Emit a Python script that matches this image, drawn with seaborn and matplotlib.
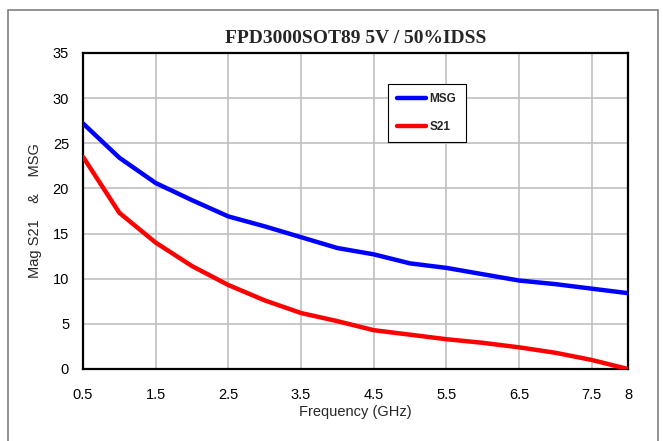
import numpy as np
import pandas as pd
import matplotlib
matplotlib.use("Agg")
import matplotlib.pyplot as plt
import seaborn as sns
from matplotlib.patches import Rectangle

freq_ghz = [0.5, 1.0, 1.5, 2.0, 2.5, 3.0, 3.5, 4.0, 4.5, 5.0, 5.5, 6.0, 6.5, 7.0, 7.5, 8.0]
msg_db = [27.2, 23.4, 20.6, 18.7, 16.9, 15.8, 14.6, 13.4, 12.7, 11.7, 11.2, 10.5, 9.8, 9.4, 8.9, 8.4]
s21_db = [23.5, 17.3, 14.0, 11.4, 9.3, 7.6, 6.2, 5.3, 4.3, 3.8, 3.3, 2.9, 2.4, 1.8, 1.0, 0.0]
series_names = ["MSG", "S21"]
series_colors = ["#0000ff", "#ff0000"]
x_ticks = [0.5, 1.5, 2.5, 3.5, 4.5, 5.5, 6.5, 7.5, 8]
x_ticklabels = ["0.5", "1.5", "2.5", "3.5", "4.5", "5.5", "6.5", "7.5", "8"]
y_ticks = [0, 5, 10, 15, 20, 25, 30, 35]

df = pd.DataFrame({
    "freq": freq_ghz * 2,
    "gain": msg_db + s21_db,
    "series": [series_names[0]] * len(freq_ghz) + [series_names[1]] * len(freq_ghz),
})

sns.set_style("white")
plt.rcParams["font.family"] = ["Liberation Sans", "DejaVu Sans"]

W, H = 663, 441
fig = plt.figure(figsize=(W / 100, H / 100), dpi=100)
ax = fig.add_axes([83 / W, 1 - 369 / H, (628 - 83) / W, (369 - 53) / H])

# figure frame (bottom edge runs off the image)
fig.patches.append(Rectangle((8 / W, -10 / H), (658 - 8) / W, (446 - 5) / H,
                             transform=fig.transFigure, fill=False,
                             edgecolor="#808080", linewidth=1.2))

sns.lineplot(data=df, x="freq", y="gain", hue="series", palette=series_colors,
             linewidth=3.2, ax=ax, legend=False, zorder=3)

ax.set_xlim(0.5, 8)
ax.set_ylim(0, 35)
ax.set_xticks(x_ticks)
ax.set_xticklabels(x_ticklabels)
ax.set_yticks(y_ticks)
ax.tick_params(axis="both", length=0, labelsize=10.5, colors="black")
ax.tick_params(axis="x", pad=14)
ax.tick_params(axis="y", pad=10)
ax.grid(True, color="#c0c0c0", linewidth=1.2)
for s in ax.spines.values():
    s.set_color("black")
    s.set_linewidth(1.6)
    s.set_visible(True)

ax.set_xlabel("Frequency (GHz)", fontsize=10.5, labelpad=2)
ax.set_ylabel("Mag S21    &    MSG", fontsize=10.5, labelpad=8)
ax.set_title("FPD3000SOT89 5V / 50%IDSS", fontsize=14, fontweight="bold",
             family=["Liberation Serif", "DejaVu Serif"], pad=7)

handles = [plt.Line2D([], [], color=c, linewidth=3.2) for c in series_colors]
leg = ax.legend(handles, series_names, loc="upper left",
                bbox_to_anchor=((388 - 83) / (628 - 83), 1 - (84 - 53) / (369 - 53)),
                frameon=True, fancybox=False, edgecolor="black", framealpha=1,
                prop={"weight": "bold", "size": 8.5}, handlelength=2.4,
                handletextpad=0.3, labelspacing=1.3, borderpad=0.8, borderaxespad=0)
leg.get_frame().set_linewidth(0.8)
# stretch the legend box to the reference width
fig.canvas.draw()
bb = leg.get_frame().get_bbox()
leg.get_frame().set_width(bb.width + 8)

fig.savefig("out.png", dpi=100)
